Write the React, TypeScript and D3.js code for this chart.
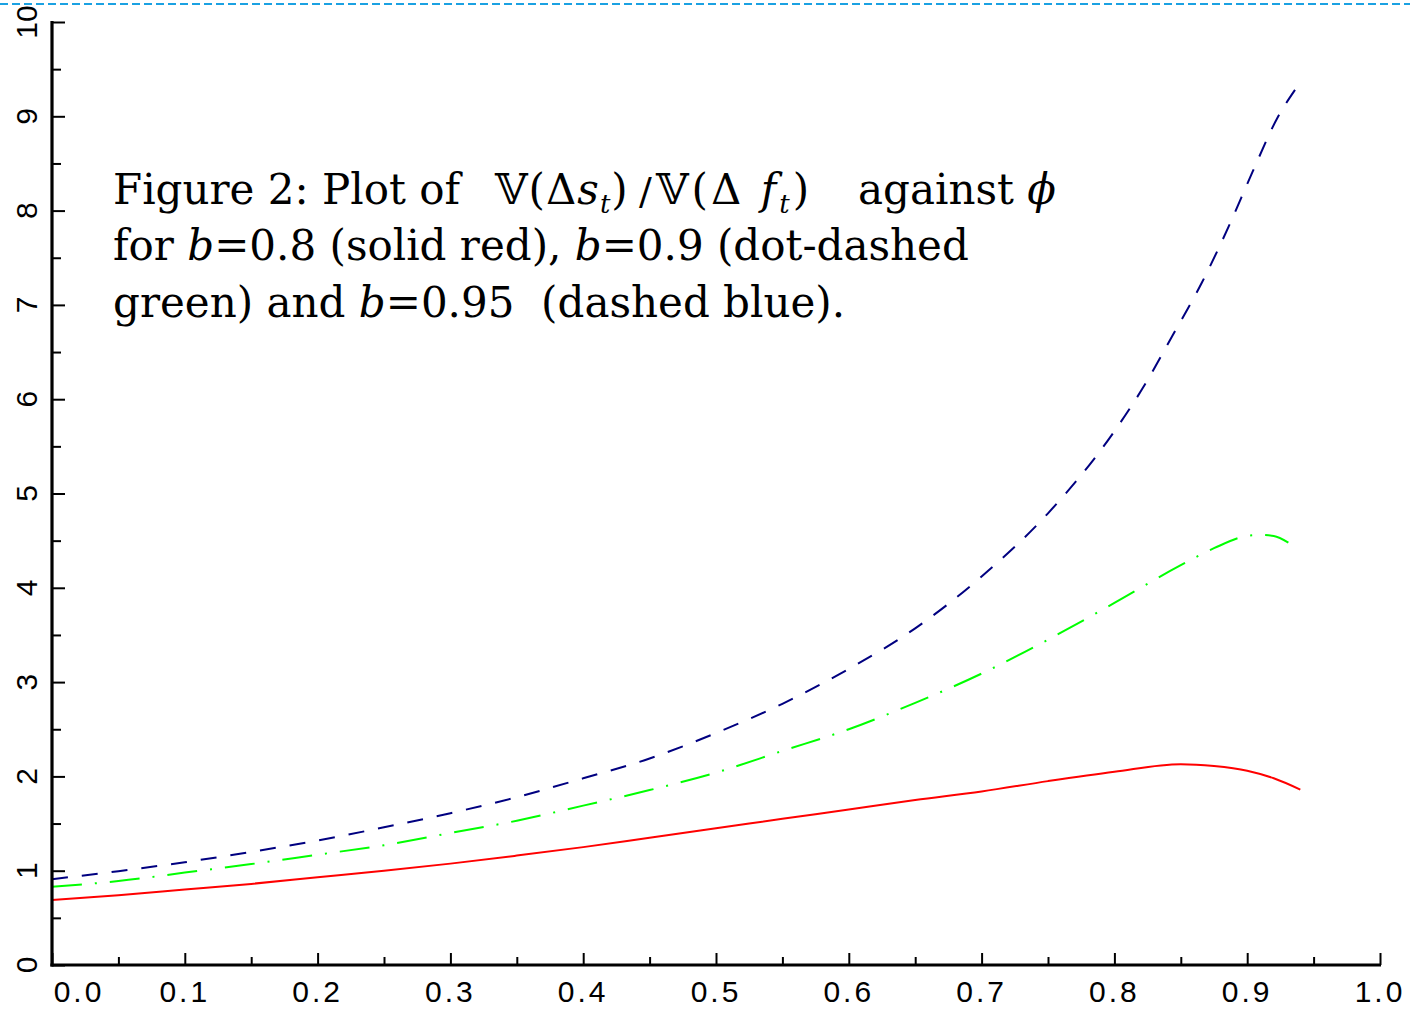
import React, {useEffect, useRef} from "react";
import * as d3 from "d3";

// phi grid and values, one list per curve
const phiRed = [0, 0.05, 0.1, 0.15, 0.2, 0.25, 0.3, 0.35, 0.4, 0.45, 0.5, 0.55, 0.6, 0.65, 0.7, 0.75, 0.8, 0.85, 0.875, 0.9, 0.92, 0.94]
const redValues = [0.69, 0.74, 0.80, 0.86, 0.93, 1.00, 1.075, 1.16, 1.25, 1.35, 1.45, 1.55, 1.65, 1.75, 1.84, 1.95, 2.05, 2.13, 2.11, 2.06, 1.98, 1.86]

const phiGreen = [0, 0.05, 0.1, 0.15, 0.2, 0.25, 0.3, 0.35, 0.4, 0.45, 0.5, 0.55, 0.6, 0.65, 0.7, 0.75, 0.8, 0.85, 0.875, 0.9, 0.91, 0.92, 0.931]
const greenValues = [0.83, 0.89, 0.98, 1.07, 1.17, 1.27, 1.40, 1.53, 1.69, 1.855, 2.04, 2.27, 2.50, 2.78, 3.09, 3.45, 3.84, 4.24, 4.42, 4.55, 4.56, 4.55, 4.48]

const phiBlue = [0, 0.05, 0.1, 0.15, 0.2, 0.25, 0.3, 0.35, 0.4, 0.45, 0.5, 0.55, 0.6, 0.65, 0.7, 0.75, 0.8, 0.821, 0.844, 0.866, 0.886, 0.904, 0.923, 0.936]
const blueValues = [0.91, 0.995, 1.09, 1.20, 1.32, 1.46, 1.61, 1.78, 1.98, 2.19, 2.46, 2.77, 3.14, 3.57, 4.12, 4.79, 5.66, 6.11, 6.68, 7.24, 7.83, 8.41, 8.99, 9.28]

const xTicks = [0, 0.1, 0.2, 0.3, 0.4, 0.5, 0.6, 0.7, 0.8, 0.9, 1.0]
const xTickLabels = ["0.0", "0.1", "0.2", "0.3", "0.4", "0.5", "0.6", "0.7", "0.8", "0.9", "1.0"]
const xMinorTicks = [0.05, 0.15, 0.25, 0.35, 0.45, 0.55, 0.65, 0.75, 0.85, 0.95]
const yTicks = [0, 1, 2, 3, 4, 5, 6, 7, 8, 9, 10]
const yMinorTicks = [0.5, 1.5, 2.5, 3.5, 4.5, 5.5, 6.5, 7.5, 8.5, 9.5]

const W = 1410
const H = 1009
const sans = "'Liberation Sans', Arial, sans-serif"
const serif = "'DejaVu Serif', serif"

const App = () => {
    const plotRef = useRef(null)

    useEffect(() => {
        const g = d3.select(plotRef.current)
        g.selectAll("*").remove()

        const x = d3.scaleLinear().domain([0, 1]).range([52, 1380])
        const y = d3.scaleLinear().domain([0, 10]).range([965, 22])

        // dashed guide along the top edge
        g.append("line")
            .attr("x1", 0).attr("x2", W).attr("y1", 4).attr("y2", 4)
            .attr("stroke", "#1ba1e2").attr("stroke-width", 2.2)
            .attr("stroke-dasharray", "8,4")

        // curves
        const line = d3.line<[number, number]>()
            .x(d => x(d[0]))
            .y(d => y(d[1]))
            .curve(d3.curveMonotoneX)

        const series = [
            {phi: phiRed, vals: redValues, color: "#ff0000", dash: null},
            {phi: phiGreen, vals: greenValues, color: "#00ff00", dash: "30,13,2,13"},
            {phi: phiBlue, vals: blueValues, color: "#000080", dash: "16,14"},
        ]
        series.forEach(s => {
            g.append("path")
                .datum(s.phi.map((p, i) => [p, s.vals[i]] as [number, number]))
                .attr("d", line)
                .attr("fill", "none")
                .attr("stroke", s.color)
                .attr("stroke-width", 2)
                .attr("stroke-dasharray", s.dash)
        })

        // y axis: ticks pointing into the plot
        const yTickAxis = (vals: number[], size: number) =>
            g.append("g").attr("transform", "translate(52,0)")
                .call(d3.axisLeft(y).tickValues(vals).tickSize(-size).tickFormat(() => ""))
                .call(a => a.select(".domain").remove())
                .selectAll(".tick line").attr("stroke", "#000").attr("stroke-width", 2)
        yTickAxis(yTicks, 13)
        yTickAxis(yMinorTicks, 9)

        // rotated y labels
        g.append("g").selectAll("text")
            .data(yTicks)
            .join("text")
            .attr("transform", d => `translate(37,${y(d)}) rotate(-90)`)
            .attr("text-anchor", "middle")
            .attr("font-family", sans)
            .attr("font-size", 30)
            .text(d => String(d))

        // x axis: ticks pointing up
        const xTickAxis = (vals: number[], size: number) =>
            g.append("g").attr("transform", "translate(0,965)")
                .call(d3.axisBottom(x).tickValues(vals).tickSize(-size).tickFormat(() => ""))
                .call(a => a.select(".domain").remove())
                .selectAll(".tick line").attr("stroke", "#000").attr("stroke-width", 2)
        xTickAxis(xTicks, 12)
        xTickAxis(xMinorTicks, 8)

        g.append("g").selectAll("text")
            .data(xTicks)
            .join("text")
            // first label is pushed right, clear of the y axis
            .attr("x", (d, i) => i === 0 ? x(d) + 27 : x(d))
            .attr("y", 1002)
            .attr("text-anchor", "middle")
            .attr("font-family", sans)
            .attr("font-size", 30)
            .attr("letter-spacing", 3)
            .text((d, i) => xTickLabels[i])

        // axis lines on top
        g.append("line").attr("x1", 52).attr("x2", 52).attr("y1", 21).attr("y2", 966.5)
            .attr("stroke", "#000").attr("stroke-width", 3.2)
        g.append("line").attr("x1", 50.4).attr("x2", 1381).attr("y1", 965).attr("y2", 965)
            .attr("stroke", "#000").attr("stroke-width", 3.2)
    }, [])

    return (
        <svg width={W} height={H} viewBox={`0 0 ${W} ${H}`}
             style={{position: "absolute", left: 0, top: 0, background: "#fff"}}>
            <g ref={plotRef}/>
            <g fontFamily={serif} fontSize={42} fill="#000">
                <text x={113} y={204}>Figure 2: Plot of</text>
                <text x={495} y={204} letterSpacing={1}>
                    <tspan fontSize={42}>𝕍</tspan>
                    <tspan>(Δ</tspan>
                    <tspan fontStyle="italic">s</tspan>
                    <tspan fontStyle="italic" fontSize={26} dy={9}>t</tspan>
                    <tspan dy={-9}>)</tspan>
                </text>
                <text x={639} y={204} fontSize={38}>/</text>
                <text x={656} y={204} letterSpacing={3}>
                    <tspan fontSize={42}>𝕍</tspan>
                    <tspan>(Δ</tspan>
                    <tspan fontStyle="italic"> f</tspan>
                    <tspan fontStyle="italic" fontSize={26} dy={9}>t</tspan>
                    <tspan dy={-9}>)</tspan>
                </text>
                <text x={858} y={204}>against <tspan fontStyle="italic">ϕ</tspan></text>
                <text x={113} y={260}>
                    for <tspan fontStyle="italic">b</tspan>=0.8 (solid red), <tspan fontStyle="italic">b</tspan>=0.9 (dot-dashed
                </text>
                <text x={113} y={317}>
                    green) and <tspan fontStyle="italic">b</tspan>=0.95{"\u00a0"} (dashed blue).
                </text>
            </g>
        </svg>
    );
};

export default App;
